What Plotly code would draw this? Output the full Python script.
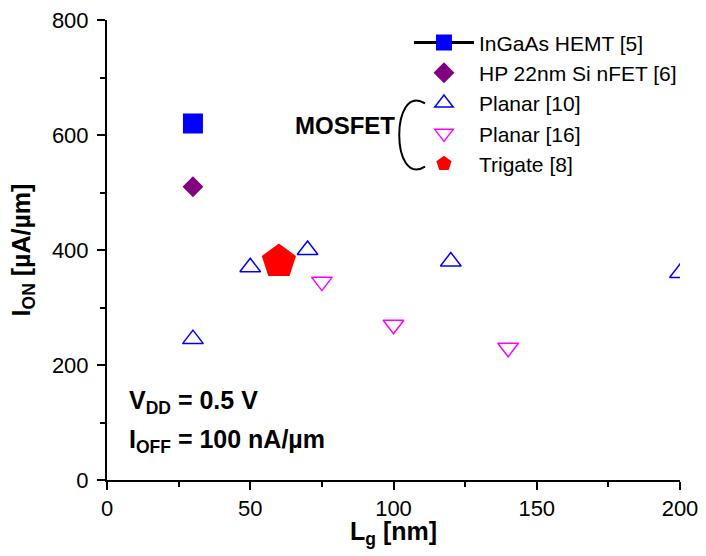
import plotly.graph_objects as go

# Data
hemt_lg = [30]
hemt_ion = [620]
hp_lg = [30]
hp_ion = [510]
planar10_lg = [30, 50, 70, 120, 200]
planar10_ion = [245, 370, 400, 380, 360]
planar16_lg = [75, 100, 140]
planar16_ion = [345, 270, 230]
trigate_lg = [60]
trigate_ion = [380]

x_ticks = [0, 50, 100, 150, 200]
y_ticks = [0, 200, 400, 600, 800]

FONT = "Liberation Sans, Arial, sans-serif"

fig = go.Figure()
fig.add_trace(go.Scatter(x=hemt_lg, y=hemt_ion, mode="lines+markers", name="InGaAs HEMT [5]",
                         line=dict(color="black", width=3),
                         marker=dict(symbol="square", size=20, color="#0000FF")))
fig.add_trace(go.Scatter(x=hp_lg, y=hp_ion, mode="markers", name="HP 22nm Si nFET [6]",
                         marker=dict(symbol="diamond", size=16, color="#800080")))
fig.add_trace(go.Scatter(x=planar10_lg, y=planar10_ion, mode="markers", name="Planar [10]",
                         marker=dict(symbol="triangle-up-open", size=18, color="#0000FF",
                                     line=dict(width=1.5, color="#0000FF"))))
fig.add_trace(go.Scatter(x=planar16_lg, y=planar16_ion, mode="markers", name="Planar [16]",
                         marker=dict(symbol="triangle-down-open", size=18, color="#FF00FF",
                                     line=dict(width=1.5, color="#FF00FF"))))
fig.add_trace(go.Scatter(x=trigate_lg, y=trigate_ion, mode="markers", name="Trigate [8]",
                         marker=dict(symbol="pentagon", size=36, color="#FF0000")))

axis_common = dict(ticks="outside", ticklen=8, tickwidth=2, tickcolor="black",
                   showline=True, linewidth=2, linecolor="black", showgrid=False,
                   zeroline=False, tickfont=dict(size=22, color="black"), automargin=False)

fig.update_layout(
    width=706, height=556,
    margin=dict(l=107, r=26, t=20, b=76, autoexpand=False),
    paper_bgcolor="white", plot_bgcolor="white",
    font=dict(family=FONT, color="black", size=22),
    showlegend=True,
    legend=dict(x=0.527, y=0.995, xanchor="left", yanchor="top",
                bgcolor="rgba(0,0,0,0)", borderwidth=0,
                font=dict(size=21, family=FONT), itemwidth=60,
                tracegroupgap=0),
    xaxis=dict(range=[0, 200], tickvals=x_ticks, ticklabelstandoff=0,
               minor=dict(dtick=25, ticks="outside", ticklen=5, tickwidth=2,
                          tickcolor="black", showgrid=False),
               **axis_common),
    yaxis=dict(range=[0, 800], tickvals=y_ticks, ticklabelstandoff=4,
               minor=dict(dtick=100, ticks="outside", ticklen=5, tickwidth=2,
                          tickcolor="black", showgrid=False),
               title=dict(text="<b>I<sub>ON</sub> [µA/µm]</b>", font=dict(size=25), standoff=14),
               **axis_common),
)

# x-axis title (placed as annotation for exact position)
fig.add_annotation(xref="paper", yref="paper", x=0.5, y=-0.115, xanchor="center", yanchor="middle",
                   text="<b>L<sub>g</sub> [nm]</b>", showarrow=False, font=dict(size=25))
fig.add_annotation(xref="paper", yref="paper", x=0.035, y=0.17, xanchor="left", yanchor="middle",
                   text="<b>V<sub>DD</sub> = 0.5 V</b>", showarrow=False, font=dict(size=25))
fig.add_annotation(xref="paper", yref="paper", x=0.035, y=0.085, xanchor="left", yanchor="middle",
                   text="<b>I<sub>OFF</sub> = 100 nA/µm</b>", showarrow=False, font=dict(size=25))
fig.add_annotation(xref="x", yref="y", x=83, y=617, xanchor="center", yanchor="middle",
                   text="<b>MOSFET</b>", showarrow=False, font=dict(size=24))
# bracket
fig.add_shape(type="path", xref="x", yref="y",
              path="M 111,655 C 99,692 99,508 111,545",
              line=dict(color="black", width=2))

fig.write_html("out.html", config={"displayModeBar": False},
               post_script="document.body.style.margin='0';")
